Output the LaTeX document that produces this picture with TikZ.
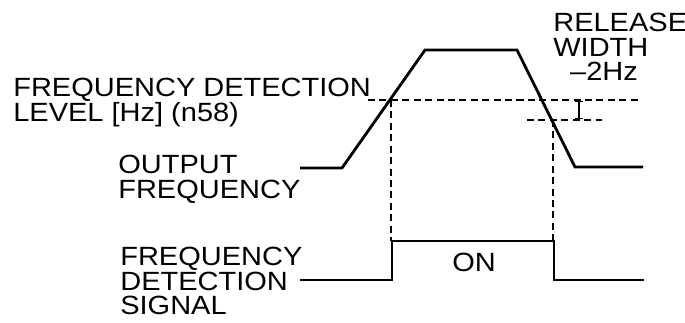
\documentclass[tikz,border=0pt]{standalone}
\usepackage{fontspec}
\newfontfamily\lblfont[FakeStretch=1.1]{Liberation Sans}
\usetikzlibrary{arrows.meta}
\tikzset{
      lbl/.style={
        font=\lblfont\fontsize{15}{14}\selectfont,
        align=left,
        inner sep=0pt,
        anchor=north west
      },
      wave/.style={
        line width=1.6pt,
        line join=miter
      },
      guide/.style={
        line width=0.8pt,
        dash pattern=on 4pt off 2.5pt
      }
    }

\begin{document}
\begin{tikzpicture}[x=0.02cm,y=-0.02cm]
    \useasboundingbox (0,0) rectangle (685,322);
    % output frequency
    \coordinate (o0) at (300,168);
    \coordinate (o1) at (342,168);
    \coordinate (o2) at (425,50);
    \coordinate (o3) at (517,50);
    \coordinate (o4) at (575,167);
    \coordinate (o5) at (643,167);
    \draw[wave] (o0) -- (o1) -- (o2) -- (o3) -- (o4) -- (o5);
    % detection levels
    \coordinate (lv0) at (368,100);
    \coordinate (lv1) at (642,100);
    \coordinate (rl0) at (527,120);
    \coordinate (rl1) at (602,120);
    \coordinate (on0) at (391,100);
    \coordinate (off0) at (553,120);
    \draw[guide] (lv0) -- (lv1);
    \draw[guide] (rl0) -- (rl1);
    \draw[line width=0.8pt, {Bar[width=5pt]}-{Bar[width=5pt]}] (579,101) -- (579,119);
    % detection signal
    \coordinate (s0) at (300,280);
    \coordinate (s1) at (392,280);
    \coordinate (s2) at (392,241);
    \coordinate (s3) at (554,241);
    \coordinate (s4) at (554,280);
    \coordinate (s5) at (644,280);
    \draw[wave] (s0) -- (s1) -- (s2) -- (s3) -- (s4) -- (s5);
    \draw[guide] (on0) -- (on0 |- s2);
    \draw[guide] (off0) -- (off0 |- s3);
    \node[lbl, anchor=center] (on) at (474,262) {ON};
    % labels
    \node[lbl] (level) at (13,78) {FREQUENCY DETECTION\\LEVEL [Hz] (n58)};
    \node[lbl] (outf) at (118,155) {OUTPUT\\FREQUENCY};
    \node[lbl] (relw) at (553,13) {RELEASE\\WIDTH\\\hspace*{9.6pt}–2Hz};
    \node[lbl] (sig) at (120,247) {FREQUENCY\\DETECTION\\SIGNAL};
    \end{tikzpicture}
\end{document}
